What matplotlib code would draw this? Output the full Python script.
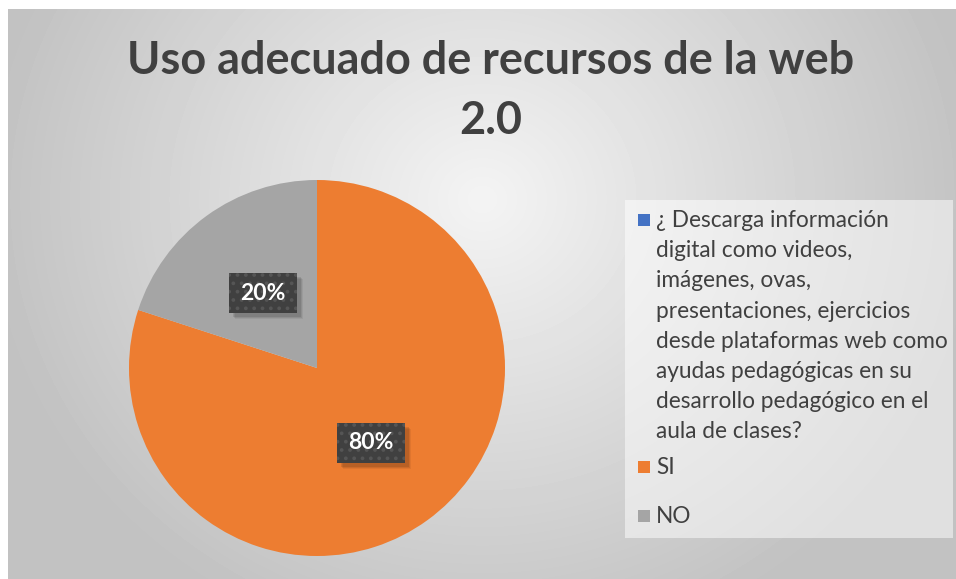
import numpy as np
import matplotlib
matplotlib.use('Agg')
import matplotlib.pyplot as plt
from matplotlib.patches import Rectangle

plt.rcParams['font.family'] = ['Lato', 'DejaVu Sans']
plt.rcParams['hatch.linewidth'] = 1.5

# data
title = 'Uso adecuado de recursos de la web\n2.0'
labels = ['¿ Descarga información\ndigital como videos,\nimágenes, ovas,\npresentaciones, ejercicios\n'
          'desde plataformas web como\nayudas pedagógicas en su\ndesarrollo pedagógico en el\naula de clases?',
          'SI', 'NO']
values = [0, 80, 20]
colors = ['#4472C4', '#ED7D31', '#A5A5A5']

W, H = 956, 579
fig = plt.figure(figsize=(W / 100, H / 100), dpi=100)
fig.patch.set_facecolor('white')

# gradient background of the chart area
bg = fig.add_axes([8 / W, 0, 948 / W, 570 / H])
yy, xx = np.mgrid[0:570, 0:948]
d = np.sqrt(((xx - 474) / 560.0) ** 2 + ((yy - 190) / 520.0) ** 2)
shade = np.clip(0.955 - 0.22 * d, 0.76, 0.96)
bg.imshow(shade, cmap='gray', vmin=0, vmax=1, aspect='auto', interpolation='bilinear')
bg.axis('off')

fig.text(491 / W, 1 - 91 / H, title, ha='center', va='center', fontsize=32.4,
         fontweight='bold', color='#404040', linespacing=1.5)

# pie
cx, cy, r = 317, 368, 188
ax = fig.add_axes([(cx - r) / W, (H - cy - r) / H, 2 * r / W, 2 * r / H])
wedges, _ = ax.pie(values, colors=colors, startangle=90, counterclock=False,
                   radius=1, wedgeprops=dict(linewidth=0))
ax.set_xlim(-1, 1)
ax.set_ylim(-1, 1)
ax.axis('off')

total = sum(values)
bw, bh = 68, 40
for w, v in zip(wedges, values):
    if v == 0:
        continue
    ang = np.deg2rad((w.theta1 + w.theta2) / 2)
    px = cx + 0.49 * r * np.cos(ang)
    py = (H - cy) + 0.49 * r * np.sin(ang)
    # soft shadow
    for k, a in [(6, 0.06), (5, 0.08), (4, 0.10)]:
        fig.patches.append(Rectangle(((px - bw / 2 + k) / W, (py - bh / 2 - k) / H),
                                     bw / W, bh / H, transform=fig.transFigure,
                                     fc='black', ec='none', alpha=a, zorder=3))
    fig.patches.append(Rectangle(((px - bw / 2) / W, (py - bh / 2) / H), bw / W, bh / H,
                                 transform=fig.transFigure, fc='#404040', ec='#555555',
                                 hatch='..', lw=0, zorder=4))
    fig.text(px / W, py / H, '%d%%' % round(100 * v / total), ha='center', va='center',
             fontsize=16.5, fontweight='bold', color='white', zorder=5)

# legend
fig.patches.append(Rectangle((625 / W, 1 - 538 / H), 328 / W, 338 / H,
                             transform=fig.transFigure, fc='white', alpha=0.5,
                             ec='none', zorder=1))
ys = [220, 467, 516]
for lab, col, yv in zip(labels, colors, ys):
    fig.patches.append(Rectangle((638 / W, 1 - (yv + 6) / H), 12 / W, 12 / H,
                                 transform=fig.transFigure, fc=col, ec='none', zorder=2))
    fig.text(656 / W, 1 - (yv - 10) / H, lab, ha='left', va='top', fontsize=16.3,
             color='#404040', linespacing=1.54, zorder=3)

fig.savefig('out.png', dpi=100)
